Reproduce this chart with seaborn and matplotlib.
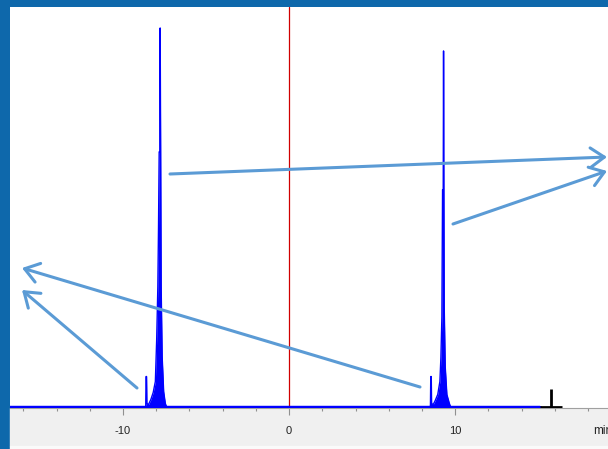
import numpy as np
import pandas as pd
import matplotlib.pyplot as plt
import matplotlib.patches as mpatches
import seaborn as sns

# signal: retention time (min) and detector response
left_x = [-8.66, -8.63, -8.61, -8.58, -8.56, -8.46, -8.32, -8.18, -8.05, -7.97,
          -7.90, -7.86, -7.82, -7.78, -7.76, -7.73, -7.70, -7.64, -7.55, -7.45, -7.38]
left_y = [0, 0, 30, 30, 3, 2, 7, 14, 25, 67,
          120, 179, 255, 255, 379, 255, 120, 50, 15, 3, 0]
right_x = [8.48, 8.51, 8.53, 8.56, 8.58, 8.68, 8.80, 8.95, 9.08, 9.14,
           9.20, 9.24, 9.28, 9.30, 9.32, 9.34, 9.40, 9.50, 9.65, 9.72]
right_y = [0, 0, 30, 30, 3, 2, 6, 12, 25, 49,
           90, 217, 217, 356, 217, 100, 40, 12, 3, 0]
run_start, run_end = -17.0, 15.1
cursor_x = 15.75
marker_x = 0.0
major_ticks = [-10, 0, 10]

df = pd.DataFrame({
    "time": [run_start] + left_x + right_x + [run_end],
    "signal": [0] + left_y + right_y + [0],
})

W, H = 608, 449
fig = plt.figure(figsize=(W / 100, H / 100), dpi=100)
sns.set_style("white")
plt.rcParams["font.family"] = ["Liberation Sans", "DejaVu Sans"]
fig.patch.set_facecolor("#0E68AB")

# slide background bits (kept behind the axes)
fig.patches.append(mpatches.Rectangle((10 / W, 3 / H), 1 - 10 / W, 38 / H,
                                      transform=fig.transFigure, color="#F0F0F0", zorder=-2))
fig.patches.append(mpatches.Rectangle((10 / W, 0), 1 - 10 / W, 3 / H,
                                      transform=fig.transFigure, color="#FAFAFA", zorder=-2))

ax = fig.add_axes([10 / W, (H - 408) / H, 1 - 10 / W, 401 / H])
ax.set_facecolor("white")

sns.lineplot(data=df, x="time", y="signal", ax=ax, color="#0000FF", lw=1.0, zorder=3)
ax.fill_between(df["time"], df["signal"], color="#0000FF", lw=0, zorder=3)
ax.axhline(0, xmin=0, xmax=(run_end + 16.8) / 36.0, color="#0000FF", lw=2.2, zorder=4)
ax.axvline(marker_x, color="#D00000", lw=0.9, zorder=2)

# cursor mark
ax.vlines(cursor_x, 0, 18, color="black", lw=2.0, zorder=5)
ax.hlines(0, cursor_x - 0.65, cursor_x + 0.7, color="black", lw=2.0, zorder=5)

ax.set_xlim(-16.8, 19.2)
ax.set_ylim(-1.5, 400)
ax.set_xticks(major_ticks)
ax.set_xticks(np.arange(-16, 20, 2), minor=True)
ax.set_xticklabels([str(t) for t in major_ticks], fontsize=8, color="#222222")
ax.tick_params(axis="x", which="major", direction="out", length=5.3, width=0.8,
               color="#909090", pad=8, bottom=True)
ax.tick_params(axis="x", which="minor", direction="out", length=2.5, width=0.8,
               color="#909090", bottom=True)
ax.set_yticks([])
ax.set_xlabel("")
ax.set_ylabel("")
for side in ["top", "left", "right"]:
    ax.spines[side].set_visible(False)
ax.spines["bottom"].set_color("#A0A0A0")
ax.spines["bottom"].set_linewidth(0.8)

fig.text(593 / W, (H - 431) / H, "min", fontsize=8.5, color="#222222", va="center")

# callout arrows
arrow_color = "#5B9BD5"
arrows = [((170, 174), (607, 157)),
          ((453, 224), (607, 171)),
          ((420, 387), (22, 268)),
          ((137, 388), (22, 290))]
for (sx, sy), (ex, ey) in arrows:
    ax.annotate("", xy=(ex, H - ey), xytext=(sx, H - sy),
                xycoords="figure pixels", textcoords="figure pixels",
                annotation_clip=False,
                arrowprops=dict(arrowstyle="->,head_length=1.0,head_width=0.7",
                                color=arrow_color, lw=2.2, shrinkA=0, shrinkB=0),
                zorder=6)

fig.savefig("out.png", dpi=100, facecolor=fig.get_facecolor())
